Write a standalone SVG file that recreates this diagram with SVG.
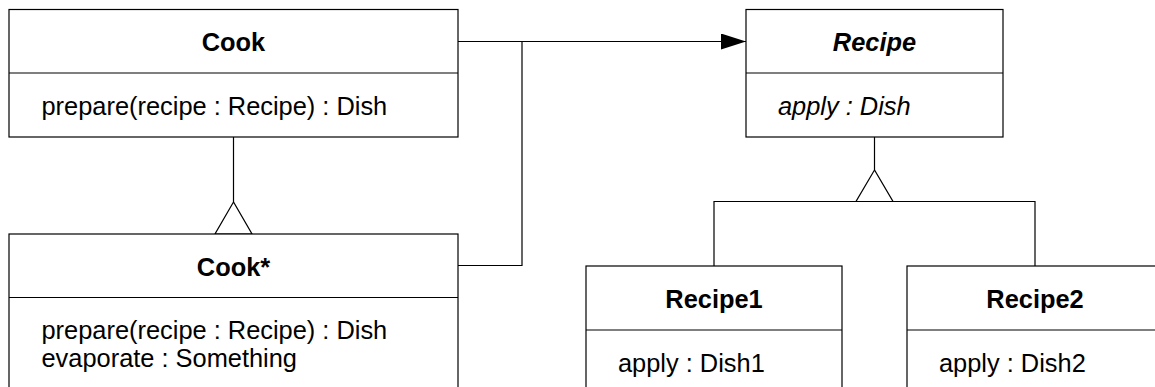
<svg xmlns="http://www.w3.org/2000/svg" width="1155" height="387" viewBox="0 0 1155 387">
  <style>
    .box { fill: #ffffff; stroke: #000000; stroke-width: 1.2; }
    .line { fill: none; stroke: #000000; stroke-width: 1.2; }
    .title { font-family: "Liberation Sans", Arial, sans-serif; font-size: 25.4px; font-weight: bold; text-anchor: middle; fill: #000; }
    .member { font-family: "Liberation Sans", Arial, sans-serif; font-size: 25.4px; fill: #000; }
    .abstract { font-style: italic; }
    .gen { fill: #ffffff; stroke: #000000; stroke-width: 1.2; }
  </style>
  <defs>
    <marker id="arrow" markerWidth="26" markerHeight="18" refX="25" refY="8" orient="auto" markerUnits="userSpaceOnUse">
      <path d="M0,0 L25,8 L0,16 Z" fill="#000"/>
    </marker>
  </defs>

  <!-- connectors -->
  <g id="connectors">
    <!-- Cook -> Recipe association -->
    <path class="line" d="M458,41.5 L746,41.5" marker-end="url(#arrow)"/>
    <!-- Cook* joins the same association -->
    <path class="line" d="M458,265.5 L522,265.5 L522,41.5"/>
    <!-- Cook* generalizes Cook -->
    <path class="line" d="M233.5,137 L233.5,202"/>
    <polygon class="gen" points="233.5,202 215,234 252,234"/>
    <!-- Recipe1 / Recipe2 generalize Recipe -->
    <path class="line" d="M874.5,137 L874.5,170"/>
    <path class="line" d="M714,266 L714,201.5 L1035,201.5 L1035,266"/>
    <polygon class="gen" points="874.5,170 856,201.5 893,201.5"/>
  </g>

  <!-- Cook -->
  <g id="cook">
    <rect class="box" x="9" y="9.5" width="449" height="127.5"/>
    <line class="line" x1="9" y1="73" x2="458" y2="73"/>
    <text class="title" x="233.5" y="51">Cook</text>
    <text class="member" x="41.5" y="115">prepare(recipe : Recipe) : Dish</text>
  </g>

  <!-- Cook* -->
  <g id="cook-star">
    <rect class="box" x="9" y="234" width="449" height="170"/>
    <line class="line" x1="9" y1="297.5" x2="458" y2="297.5"/>
    <text class="title" x="233.5" y="276">Cook*</text>
    <text class="member" x="41.5" y="339">prepare(recipe : Recipe) : Dish</text>
    <text class="member" x="41.5" y="367">evaporate : Something</text>
  </g>

  <!-- Recipe (abstract) -->
  <g id="recipe">
    <rect class="box" x="746" y="9.5" width="257" height="127.5"/>
    <line class="line" x1="746" y1="73" x2="1003" y2="73"/>
    <text class="title abstract" x="874.5" y="51">Recipe</text>
    <text class="member abstract" x="778" y="115">apply : Dish</text>
  </g>

  <!-- Recipe1 -->
  <g id="recipe1">
    <rect class="box" x="586" y="266" width="256" height="140"/>
    <line class="line" x1="586" y1="330" x2="842" y2="330"/>
    <text class="title" x="714" y="308">Recipe1</text>
    <text class="member" x="618" y="372">apply : Dish1</text>
  </g>

  <!-- Recipe2 -->
  <g id="recipe2">
    <rect class="box" x="907" y="266" width="257" height="140"/>
    <line class="line" x1="907" y1="330" x2="1164" y2="330"/>
    <text class="title" x="1035" y="308">Recipe2</text>
    <text class="member" x="939" y="372">apply : Dish2</text>
  </g>
</svg>
